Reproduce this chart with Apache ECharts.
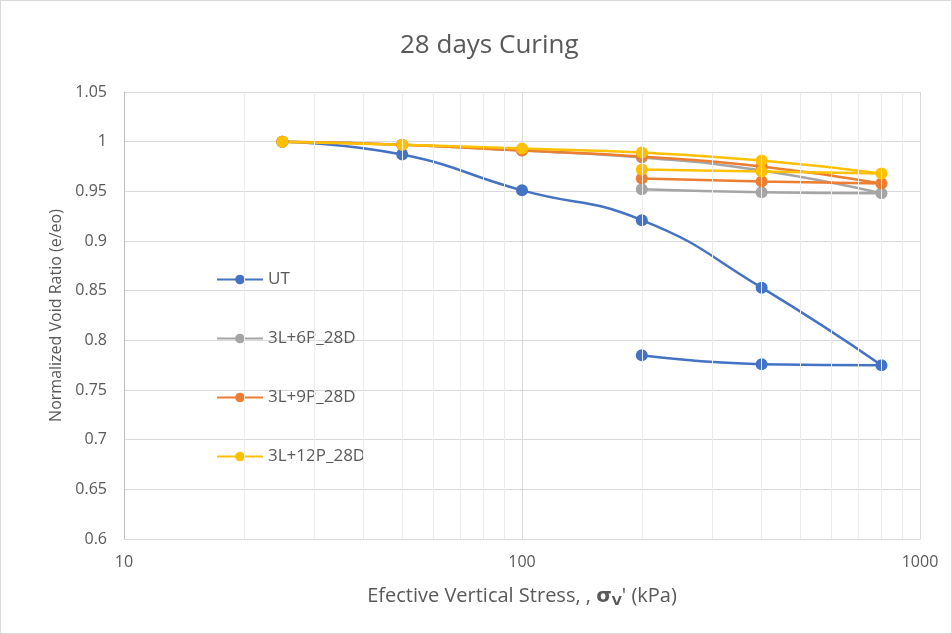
<!DOCTYPE html>
<html>
<head>
<meta charset="utf-8">
<script src="https://cdn.jsdelivr.net/npm/echarts@6/dist/echarts.min.js"></script>
<style>
  html, body { margin: 0; padding: 0; background: #fff; }
  #chart { width: 950px; height: 632px; border: 1px solid #d9d9d9; }
</style>
</head>
<body>
<div id="chart"></div>
<script>
// stress steps (kPa): loading 25 -> 800, then unloading
var stress = [25, 50, 100, 200, 400, 800, 400, 200];

var utData = [1, 0.987, 0.951, 0.921, 0.853, 0.775, 0.776, 0.785];
var p6Data = [1, 0.997, 0.991, 0.984, 0.971, 0.948, 0.949, 0.952];
var p9Data = [1, 0.997, 0.991, 0.985, 0.975, 0.958, 0.960, 0.963];
var p12Data = [1, 0.997, 0.993, 0.989, 0.981, 0.968, 0.970, 0.972];

var seriesNames = ['UT', '3L+6P_28D', '3L+9P_28D', '3L+12P_28D'];
var seriesColors = ['#4472c4', '#a5a5a5', '#ed7d31', '#ffc000'];

// minor log gridlines
var minorX = [20, 30, 40, 50, 60, 70, 80, 90, 200, 300, 400, 500, 600, 700, 800, 900];

var chartDom = document.getElementById('chart');
var myChart = echarts.init(chartDom);

function pairs(ys) {
  return stress.map(function (x, i) { return [x, ys[i]]; });
}

function makeSeries(name, color, ys) {
  return {
    name: name,
    type: 'line',
    smooth: 0.5,
    data: pairs(ys),
    symbol: 'circle',
    symbolSize: 12,
    itemStyle: { color: color, borderColor: color, borderWidth: 0, opacity: 1 },
    lineStyle: { color: color, width: 2.5 },
    emphasis: { disabled: true },
    z: 3
  };
}

var allSeries = [
  {
    name: 'grid',
    type: 'line',
    data: [],
    silent: true,
    markLine: {
      silent: true,
      symbol: 'none',
      label: { show: false },
      lineStyle: { color: '#ececec', width: 1, type: 'solid' },
      data: minorX.map(function (v) { return { xAxis: v }; })
    },
    z: 1
  }
];
[utData, p6Data, p9Data, p12Data].forEach(function (ys, i) {
  allSeries.push(makeSeries(seriesNames[i], seriesColors[i], ys));
});

var option = {
  animation: false,
  backgroundColor: '#fff',
  title: {
    text: '28 days Curing',
    left: 394,
    top: 27,
    textStyle: { fontFamily: 'Open Sans', fontSize: 26, fontWeight: 'normal', color: '#595959' }
  },
  legend: {
    data: seriesNames,
    orient: 'vertical',
    left: 215,
    top: 270,
    padding: 0,
    itemWidth: 46,
    itemHeight: 12,
    itemGap: 42,
    textStyle: { fontFamily: 'Open Sans', fontSize: 17, color: '#595959' }
  },
  grid: { left: 123, right: 31, top: 91, bottom: 94 },
  xAxis: {
    type: 'log',
    logBase: 10,
    min: 10,
    max: 1000,
    name: "Efective Vertical Stress, , {b|σ}{s|V}' (kPa)",
    nameLocation: 'middle',
    nameGap: 46,
    nameTextStyle: {
      fontFamily: 'Open Sans', fontSize: 20, color: '#595959',
      rich: {
        b: { fontFamily: 'DejaVu Sans', fontSize: 20, fontWeight: 'bold', color: '#595959' },
        s: { fontFamily: 'DejaVu Sans', fontSize: 13, fontWeight: 'bold', color: '#595959', padding: [10, 0, 0, 0] }
      }
    },
    axisLine: { show: true, lineStyle: { color: '#d9d9d9' } },
    axisTick: { show: false },
    axisLabel: {
      fontFamily: 'Open Sans', fontSize: 16, color: '#595959', margin: 15,
      formatter: function (v) { return String(v); }
    },
    splitLine: { show: true, lineStyle: { color: '#d9d9d9' } }
  },
  yAxis: {
    type: 'value',
    min: 0.6,
    max: 1.05,
    interval: 0.05,
    name: 'Normalized Void Ratio (e/eo)',
    nameLocation: 'middle',
    nameGap: 60,
    nameTextStyle: { fontFamily: 'Open Sans', fontSize: 16, color: '#595959' },
    axisLine: { show: true, lineStyle: { color: '#bfbfbf' } },
    axisTick: { show: false },
    axisLabel: { fontFamily: 'Open Sans', fontSize: 16, color: '#595959', margin: 17 },
    splitLine: { show: true, lineStyle: { color: '#d9d9d9' } }
  },
  series: allSeries
};

myChart.setOption(option);
</script>
</body>
</html>
